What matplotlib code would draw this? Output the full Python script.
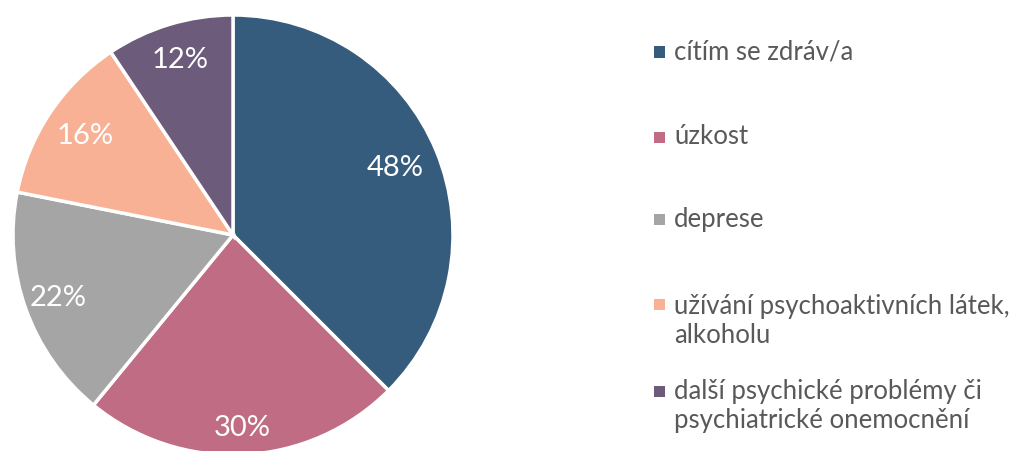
import matplotlib
matplotlib.use("Agg")
import matplotlib.pyplot as plt
import numpy as np
from matplotlib.patches import Rectangle

categories = [
    "cítím se zdráv/a",
    "úzkost",
    "deprese",
    "užívání psychoaktivních látek,\nalkoholu",
    "další psychické problémy či\npsychiatrické onemocnění",
]
values = [48, 30, 22, 16, 12]
colors = ["#355C7D", "#C06C84", "#A5A5A5", "#F8B195", "#6C5B7B"]

plt.rcParams['font.family'] = ['Lato', 'DejaVu Sans']

W, H = 1018, 451
fig = plt.figure(figsize=(W / 100, H / 100), dpi=100)

cx, cy, r = 233, 235, 220
ax = fig.add_axes([(cx - r) / W, (H - cy - r) / H, 2 * r / W, 2 * r / H])
total = sum(values)

wedges, texts, autotexts = ax.pie(
    values, colors=colors, startangle=90, counterclock=False,
    autopct=lambda p: f"{round(p * total / 100)}%", pctdistance=0.83,
    wedgeprops=dict(edgecolor="white", linewidth=2.5),
    textprops=dict(color="white", fontsize=21),
)
# per-label radial placement (layout only)
label_dist = [0.80, 0.88, 0.845, 0.81, 0.83]
for w, t, d in zip(wedges, autotexts, label_dist):
    ang = np.deg2rad((w.theta1 + w.theta2) / 2)
    t.set_position((d * np.cos(ang), d * np.sin(ang)))

ax.set_xlim(-1, 1)
ax.set_ylim(-1, 1)
ax.set_aspect("equal")
ax.axis("off")

# legend (manual layout)
legend_y = [52, 137, 219, 321, 406]
marker_y = [52, 137, 219, 304, 391]
for lab, col, ty, my in zip(categories, colors, legend_y, marker_y):
    fig.add_artist(Rectangle(((654) / W, (H - my - 5.5) / H), 11 / W, 11 / H,
                             transform=fig.transFigure, facecolor=col, edgecolor="none"))
    fig.text(674 / W, (H - ty) / H, lab, ha="left", va="center", fontsize=18.5,
             color="#595959", linespacing=1.2)

fig.savefig("out.png", dpi=100)
